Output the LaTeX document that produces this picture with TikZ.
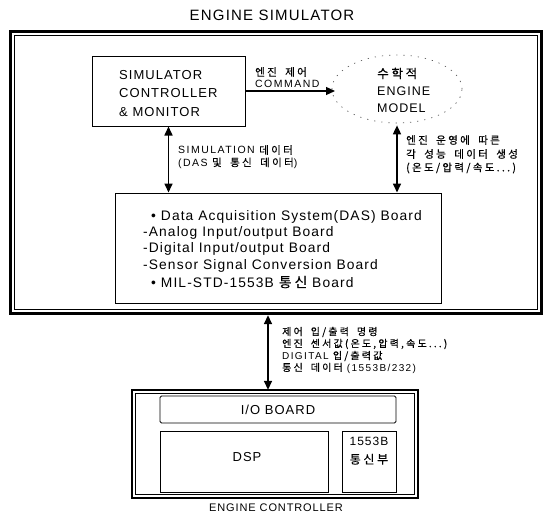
\documentclass[tikz,border=0pt]{standalone}
\usepackage{fontspec}
\setmainfont[LetterSpace=8]{Liberation Sans}
\newfontfamily\lbl[LetterSpace=14]{Liberation Sans}
\newfontfamily\kr[LetterSpace=22,WordSpace=1.8,FakeBold=0.4]{Noto Sans CJK KR}
\newcommand\K[1]{{\kr #1}}
\usetikzlibrary{arrows.meta,shapes.geometric}
\tikzset{
  box/.style={draw, line width=1pt, inner sep=0pt},
  txt/.style={inner sep=0pt, anchor=west, font=\lbl\fontsize{10.5}{12}\selectfont},
  dastxt/.style={inner sep=0pt, anchor=west, font=\fontsize{13.8}{16}\selectfont},
  conn/.style={line width=1.6pt, -{Triangle[length=9pt,width=8pt]}},
  biconn/.style={line width=1.6pt, {Triangle[length=9pt,width=8pt]}-{Triangle[length=9pt,width=8pt]}},
}
\begin{document}
\begin{tikzpicture}[x=1pt,y=-1pt]
\useasboundingbox (0,0) rectangle (548,514);
% title
\node[inner sep=0pt, font=\fontsize{15}{18}\selectfont] (title) at (272,15) {ENGINE SIMULATOR};
% simulator frame
\draw[line width=3pt] (10,31) rectangle (541,313);
\draw[line width=0.7pt] (14,35) rectangle (537,309);
\node[inner sep=0pt, minimum width=531pt, minimum height=282pt] (sim) at (275.5,172) {};
% controller
\node[box, minimum width=153pt, minimum height=70pt] (ctrl) at (168.5,91) {};
\node[inner sep=0pt, anchor=west, align=left, font=\fontsize{13}{18.5}\selectfont] (ctrltxt) at (119,93.5) {SIMULATOR\\CONTROLLER\\\& MONITOR};
% engine model
\node[ellipse, draw=black!65, line width=0.7pt, dash pattern=on 1.2pt off 6pt, minimum width=130pt, minimum height=68pt] (model) at (397,89) {};
\node[inner sep=0pt, anchor=west, align=left, font=\fontsize{12.5}{17}\selectfont] (modeltxt) at (377,90) {\K{수학적}\\ENGINE\\MODEL};
\coordinate (cmdend) at (335,91);
\draw[conn, line width=1.2pt] (ctrl.east) -- (cmdend);
\node[txt] (cmd1) at (255,72) {\K{엔진 제어}};
\node[txt] (cmd2) at (255,84) {COMMAND};
% DAS box
\node[box, minimum width=326pt, minimum height=110pt] (das) at (278,248) {};
\node[dastxt] (d1) at (151,217) {• Data Acquisition System(DAS) Board};
\node[dastxt] (d2) at (143,233) {-Analog Input/output Board};
\node[dastxt] (d3) at (143,249) {-Digital Input/output Board};
\node[dastxt] (d4) at (143,266) {-Sensor Signal Conversion Board};
\node[dastxt] (d5) at (151,282) {• MIL-STD-1553B \K{통신} Board};
% arrows to DAS
\draw[biconn] (ctrl.south) -- (ctrl.south |- das.north);
\node[txt] (s1) at (178,150) {SIMULATION \K{데이터}};
\node[txt] (s2) at (178,163) {(DAS \K{및 통신 데이터})};
\draw[biconn] (model.south) ++(0,2) coordinate (mtop) -- (mtop |- das.north);
\node[txt] (m1) at (406,140) {\K{엔진 운영에 따른}};
\node[txt] (m2) at (406,154) {\K{각 성능 데이터 생성}};
\node[txt] (m3) at (406,168) {\K{(온도/압력/속도...)}};
% engine controller
\draw[line width=2.5pt] (132,390) rectangle (418,498);
\draw[line width=0.6pt] (135.5,393.5) rectangle (414.5,494.5);
\node[inner sep=0pt, minimum width=286pt, minimum height=108pt] (ec) at (275,444) {};
\node[box, line width=0.9pt, rounded corners=1.5pt, minimum width=236pt, minimum height=27pt, font=\fontsize{13}{15}\selectfont] (io) at (278,409.5) {I/O BOARD};
\node[box, line width=0.9pt, minimum width=168pt, minimum height=61pt] (dsp) at (244,461.5) {};
\node[inner sep=0pt, font=\fontsize{13}{15}\selectfont] (dsptxt) at (247,457) {DSP};
\node[box, line width=0.9pt, minimum width=54pt, minimum height=61pt] (mil) at (369,461.5) {};
\node[inner sep=0pt, align=center, font=\fontsize{12}{18}\selectfont] (miltxt) at (369,451) {1553B\\\K{통신부}};
\node[inner sep=0pt, font=\fontsize{11}{13}\selectfont] (ectitle) at (276,508) {ENGINE CONTROLLER};
% interface arrow
\coordinate (ifx) at (268,0);
\draw[biconn] (ifx |- sim.south) ++(0,2) coordinate (itop) -- (itop |- ec.north);
\node[txt, font=\lbl\fontsize{10}{12}\selectfont] (i1) at (282,332) {\K{제어 입/출력 명령}};
\node[txt, font=\lbl\fontsize{10}{12}\selectfont] (i2) at (282,344) {\K{엔진 센서값(온도,압력,속도...)}};
\node[txt, font=\lbl\fontsize{10}{12}\selectfont] (i3) at (282,356) {DIGITAL \K{입/출력값}};
\node[txt, font=\lbl\fontsize{10}{12}\selectfont] (i4) at (282,368) {\K{통신 데이터} (1553B/232)};
\end{tikzpicture}
\end{document}
